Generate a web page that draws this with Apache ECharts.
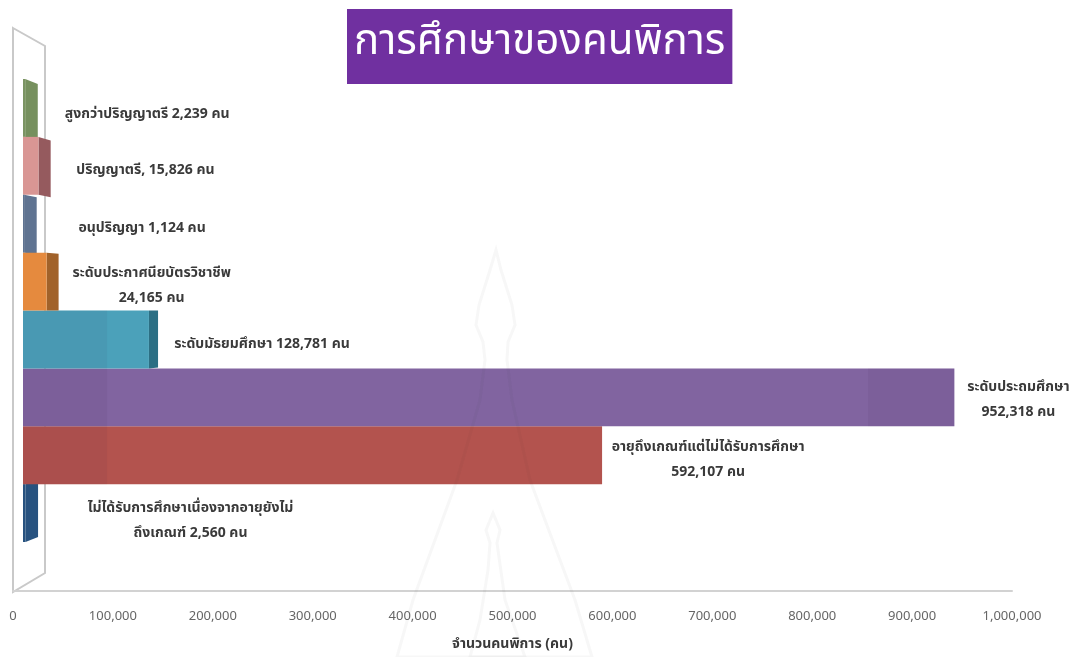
<!DOCTYPE html>
<html>
<head>
<meta charset="utf-8">
<style>html,body{margin:0;padding:0;background:#fff}#chart{width:1081px;height:657px}</style>
<script src="https://cdn.jsdelivr.net/npm/echarts@6/dist/echarts.min.js"></script>
</head>
<body>
<div id="chart"></div>
<script>
// Persons with disabilities by level of education
const chartTitle = 'การศึกษาของคนพิการ';
const axisName = 'จำนวนคนพิการ (คน)';
const unit = 'คน';
const categories = [
  'สูงกว่าปริญญาตรี',
  'ปริญญาตรี,',
  'อนุปริญญา',
  'ระดับประกาศนียบัตรวิชาชีพ',
  'ระดับมัธยมศึกษา',
  'ระดับประถมศึกษา',
  'อายุถึงเกณฑ์แต่ไม่ได้รับการศึกษา',
  'ไม่ได้รับการศึกษาเนื่องจากอายุยังไม่'
];
const values = [2239, 15826, 1124, 24165, 128781, 952318, 592107, 2560];
const tickValues = [0, 100000, 200000, 300000, 400000, 500000, 600000, 700000, 800000, 900000, 1000000];

// Face colours of each bar
const frontColors = ['#7b9463', '#d99694', '#5f7391', '#e58a3e', '#4ba1ba', '#8164a0', '#b3534e', '#27527f'];
const sideColors = ['#76905e', '#955a5e', '#5f7391', '#a1622a', '#2c6f84', '#8164a0', '#b3534e', '#27527f'];

// How each label sits against its bar: dx from the bar end, dy from the band centre, and line break
const labelLayout = [
  { dx: 122, dy: 7, breakAt: ' ' },
  { dx: 107, dy: 5, breakAt: ' ' },
  { dx: 118, dy: 5, breakAt: ' ' },
  { dx: 105, dy: 5, breakAt: '\n' },
  { dx: 113, dy: 6, breakAt: ' ' },
  { dx: 64, dy: 3, breakAt: '\n' },
  { dx: 106, dy: 5, breakAt: '\n' },
  { dx: 165, dy: 9, breakAt: 'wrap' }
];

// Value ranges where the column shading of the chart back wall shows through the bars
const shadeRanges = [[0, 86000], [864000, 1000000]];

const fmt = n => n.toLocaleString('en-US');
const labelText = i => {
  const b = labelLayout[i].breakAt;
  const num = fmt(values[i]) + ' ' + unit;
  if (b === 'wrap') return categories[i] + '\nถึงเกณฑ์ ' + num;
  return categories[i] + b + num;
};

const THAI_FONT = 'Tahoma, "Noto Sans Thai", "Noto Sans", "DejaVu Sans", sans-serif';
const VANISH_Y = 310;

function renderBar(params, api) {
  const i = params.dataIndex;
  const v = api.value(0);
  const band = api.size([0, 1])[1];
  const start = api.coord([0, i]);
  const end = api.coord([v, i]);
  const top = end[1] - band / 2;
  const bottom = end[1] + band / 2;
  const x0 = start[0];
  const x1 = end[0];
  // Receding end face: deeper for short bars, gone for the long ones
  const depth = Math.max(0, 12.6 - 0.028 * (x1 - 24));
  const skew = y => (VANISH_Y - y) * 0.022 * (depth / 12.6);
  // Bars nearest the middle of the plot overlap their neighbours
  const z2 = 1000 - Math.abs(end[1] - VANISH_Y);
  const children = [];
  if (depth > 0) {
    children.push({
      type: 'polygon',
      z2,
      shape: { points: [[x1, top], [x1 + depth, top + skew(top)], [x1 + depth, bottom + skew(bottom)], [x1, bottom]] },
      style: { fill: sideColors[i] }
    });
  }
  children.push({
    type: 'rect',
    z2: z2 + 0.1,
    shape: { x: x0, y: top, width: x1 - x0, height: band },
    style: { fill: frontColors[i] }
  });
  shadeRanges.forEach(r => {
    const a = api.coord([r[0], i])[0];
    const b = Math.min(api.coord([r[1], i])[0], x1);
    if (b > a && x1 > 100) {
      children.push({
        type: 'rect',
        z2: z2 + 0.2,
        shape: { x: a, y: top, width: b - a, height: band },
        style: { fill: 'rgba(40,20,60,0.05)' }
      });
    }
  });
  const lay = labelLayout[i];
  children.push({
    type: 'text',
    z2: 2000,
    style: {
      x: x1 + lay.dx,
      y: end[1] + lay.dy,
      text: labelText(i),
      align: 'center',
      verticalAlign: 'middle',
      fill: '#3a3a3a',
      font: 'bold 14px ' + THAI_FONT,
      lineHeight: 25
    }
  });
  return { type: 'group', children };
}

const chart = echarts.init(document.getElementById('chart'), null, { renderer: 'canvas' });
chart.setOption({
  animation: false,
  backgroundColor: '#fff',
  title: {
    text: chartTitle,
    left: 347,
    top: 9,
    padding: [16, 7, 17, 7],
    backgroundColor: '#7030a0',
    textStyle: { color: '#fff', fontSize: 42, fontWeight: 'normal', fontFamily: THAI_FONT }
  },
  grid: [
    { left: 13, top: 28, width: 999, height: 564 },
    { left: 23, top: 79, width: 978, height: 463 }
  ],
  xAxis: [
    {
      gridIndex: 0, type: 'value', min: tickValues[0], max: tickValues[tickValues.length - 1],
      interval: tickValues[1] - tickValues[0],
      name: axisName, nameLocation: 'middle', nameGap: 47,
      nameTextStyle: { color: '#3a3a3a', fontSize: 14, fontWeight: 'bold', fontFamily: THAI_FONT },
      axisLine: { show: true, lineStyle: { color: '#d2d2d2', width: 2 } },
      axisTick: { show: false },
      splitLine: { show: false },
      axisLabel: { color: '#666', fontSize: 13, margin: 20, fontFamily: THAI_FONT, formatter: v => fmt(v) }
    },
    { gridIndex: 1, type: 'value', min: 0, max: 1000000, show: false }
  ],
  yAxis: [
    { gridIndex: 0, type: 'value', show: false, min: 0, max: 1 },
    { gridIndex: 1, type: 'category', inverse: true, data: categories, show: false }
  ],
  series: [{
    type: 'custom',
    xAxisIndex: 1,
    yAxisIndex: 1,
    clip: false,
    encode: { x: 0, y: 1 },
    data: values.map((v, i) => [v, i]),
    renderItem: renderBar
  }],
  // Back wall of the plot and the faint monument outlines behind the page
  graphic: [
    {
      type: 'polygon', z: 0, silent: true,
      shape: { points: [[13, 28], [45, 46], [45, 573], [13, 592]] },
      style: { fill: 'transparent', stroke: '#c9c9c9', lineWidth: 2 }
    },
    {
      type: 'polygon', z: 100, silent: true,
      shape: { points: [[496, 250], [490, 270], [479, 305], [476, 325], [483, 342], [485, 360], [480, 400], [457, 480], [413, 600], [397, 657], [592, 657], [575, 600], [530, 480], [512, 400], [507, 360], [508, 342], [515, 325], [512, 305], [501, 270]] },
      style: { fill: 'transparent', stroke: 'rgba(60,50,50,0.04)', lineWidth: 3 }
    },
    {
      type: 'polygon', z: 100, silent: true,
      shape: { points: [[493, 513], [486, 530], [490, 543], [488, 570], [480, 620], [470, 657], [525, 657], [505, 600], [497, 543], [500, 530]] },
      style: { fill: 'transparent', stroke: 'rgba(60,50,50,0.04)', lineWidth: 3 }
    }
  ]
});
</script>
</body>
</html>
